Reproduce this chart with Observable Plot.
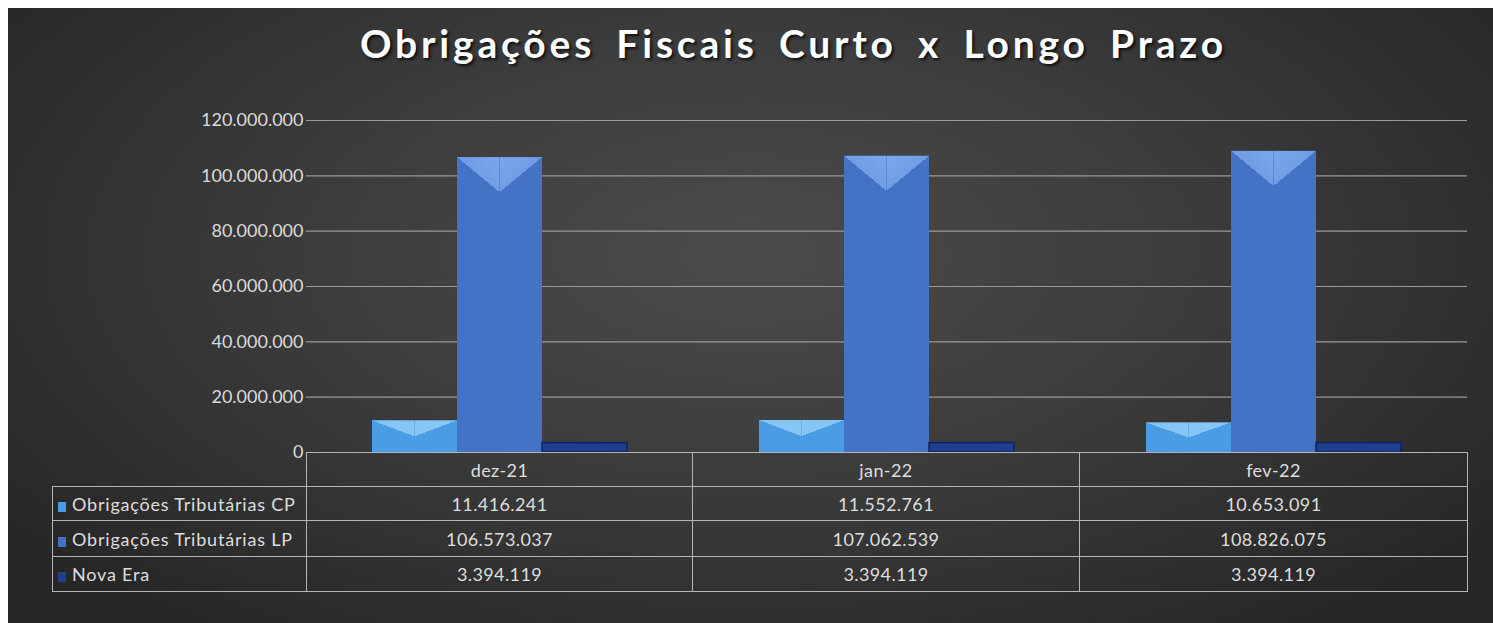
<!DOCTYPE html>
<html>
<head>
<meta charset="utf-8">
<script src="https://cdn.jsdelivr.net/npm/d3@7"></script>
<script src="https://cdn.jsdelivr.net/npm/@observablehq/plot@0.6"></script>
<style>
html,body{margin:0;padding:0;background:#ffffff;}
#root{position:relative;width:1493px;height:623px;overflow:hidden;}
#bg{position:absolute;left:8px;top:8px;width:1485px;height:615px;
  background:radial-gradient(ellipse 62% 75% at 50% 40%, #4b4b4b 0%, #3d3d3d 45%, #272727 100%);}
#title{position:absolute;left:94px;width:1399px;top:20px;text-align:center;
  font-family:Lato, sans-serif;font-weight:bold;font-size:39px;color:#ffffff;
  letter-spacing:3.8px;word-spacing:8px;text-shadow:2px 2px 3px rgba(0,0,0,0.75);}
#chart{position:absolute;left:0;top:0;}
#tbl{position:absolute;left:52px;top:452px;border-collapse:collapse;table-layout:fixed;
  font-family:Lato, sans-serif;font-size:18px;letter-spacing:0.4px;color:#dedede;}
#tbl td{border:1.5px solid #b5b5b5;text-align:center;padding:0;white-space:nowrap;overflow:hidden;}
#tbl td.empty{border-top:none;border-left:none;}
#tbl td.lab{text-align:left;padding-left:5px;letter-spacing:0.8px;}
.key{display:inline-block;width:8px;height:10px;margin-right:6px;vertical-align:-1px;}
</style>
</head>
<body>
<svg width="0" height="0" style="position:absolute">
  <defs>
    <linearGradient id="hlCPL" x1="0" y1="1" x2="1" y2="0">
      <stop offset="0.5" stop-color="#86c6f5" stop-opacity="0"/>
      <stop offset="0.5" stop-color="#86c6f5" stop-opacity="1"/>
      <stop offset="1" stop-color="#86c6f5" stop-opacity="1"/>
    </linearGradient>
    <linearGradient id="hlCPR" x1="1" y1="1" x2="0" y2="0">
      <stop offset="0.5" stop-color="#86c6f5" stop-opacity="0"/>
      <stop offset="0.5" stop-color="#86c6f5" stop-opacity="1"/>
      <stop offset="1" stop-color="#86c6f5" stop-opacity="1"/>
    </linearGradient>
    <linearGradient id="hlLPL" x1="0" y1="1" x2="1" y2="0">
      <stop offset="0.5" stop-color="#6f9ee6" stop-opacity="0"/>
      <stop offset="0.5" stop-color="#6f9ee6" stop-opacity="1"/>
      <stop offset="1" stop-color="#7aa8ec" stop-opacity="1"/>
    </linearGradient>
    <linearGradient id="hlLPR" x1="1" y1="1" x2="0" y2="0">
      <stop offset="0.5" stop-color="#6f9ee6" stop-opacity="0"/>
      <stop offset="0.5" stop-color="#6f9ee6" stop-opacity="1"/>
      <stop offset="1" stop-color="#7aa8ec" stop-opacity="1"/>
    </linearGradient>
  </defs>
</svg>
<div id="root">
  <div id="bg"></div>
  <div id="title">Obrigações Fiscais Curto x Longo Prazo</div>
  <div id="chart"></div>
  <table id="tbl"></table>
</div>
<script>
// ---- data ----
const months = ["dez-21", "jan-22", "fev-22"];
const seriesNames = ["Obrigações Tributárias CP", "Obrigações Tributárias LP", "Nova Era"];
const cpValues = [11416241, 11552761, 10653091];
const lpValues = [106573037, 107062539, 108826075];
const novaEraValues = [3394119, 3394119, 3394119];
const yTicks = [0, 20000000, 40000000, 60000000, 80000000, 100000000, 120000000];

// ---- styles ----
const seriesColors = ["#4a9de5", "#4472c4", "#1f3e8c"];
const seriesValues = [cpValues, lpValues, novaEraValues];

const data = [];
months.forEach((m, i) => {
  seriesNames.forEach((s, j) => data.push({month: m, series: s, value: seriesValues[j][i]}));
});

const fmt = d3.formatLocale({decimal: ",", thousands: ".", grouping: [3], currency: ["R$", ""]}).format(",d");

const W = 1493, mL = 306, mR = 26;
const facetW = (W - mL - mR) / months.length;
const pOuter = 0.763;
const bw = facetW / (seriesNames.length + 2 * pOuter);
const bevel = 12.6e6;
const hl = (d) => d.value - Math.min(bevel, d.value / 2);

const cpData = data.filter(d => d.series === seriesNames[0]);
const lpData = data.filter(d => d.series === seriesNames[1]);
const neData = data.filter(d => d.series === seriesNames[2]);

const chart = Plot.plot({
  width: W,
  height: 470,
  marginLeft: mL,
  marginRight: mR,
  marginTop: 120,
  marginBottom: 18,
  style: {background: "transparent", color: "#dadada", fontFamily: "Lato, sans-serif", fontSize: "18px", overflow: "visible"},
  fx: {domain: months, padding: 0, axis: null},
  x: {domain: seriesNames, paddingInner: 0, paddingOuter: pOuter, axis: null},
  y: {domain: [0, 120000000], axis: null},
  marks: [
    Plot.ruleY(yTicks.filter(d => d > 0), {stroke: "#9a9a9a", strokeWidth: 1.2}),
    Plot.axisY(yTicks, {tickFormat: fmt, tickSize: 0, tickPadding: 3, fontSize: 18, label: null, fill: "#dadada", style: "letter-spacing:3.3px"}),
    Plot.barY(cpData, {fx: "month", x: "series", y: "value", fill: seriesColors[0]}),
    Plot.barY(lpData, {fx: "month", x: "series", y: "value", fill: seriesColors[1]}),
    Plot.barY(neData, {fx: "month", x: "series", y: "value", fill: seriesColors[2], stroke: "#0c2463", strokeWidth: 1.5}),
    Plot.barY(cpData, {fx: "month", x: "series", y1: "value", y2: hl, fill: "url(#hlCPL)", insetRight: bw / 2}),
    Plot.barY(cpData, {fx: "month", x: "series", y1: "value", y2: hl, fill: "url(#hlCPR)", insetLeft: bw / 2}),
    Plot.barY(lpData, {fx: "month", x: "series", y1: "value", y2: hl, fill: "url(#hlLPL)", insetRight: bw / 2}),
    Plot.barY(lpData, {fx: "month", x: "series", y1: "value", y2: hl, fill: "url(#hlLPR)", insetLeft: bw / 2})
  ]
});
document.getElementById("chart").appendChild(chart);

// ---- data table ----
const tbl = document.getElementById("tbl");
const colW = [254, 386, 387, 388];
tbl.style.width = colW.reduce((a, b) => a + b, 0) + "px";
const cg = document.createElement("colgroup");
colW.forEach(w => { const c = document.createElement("col"); c.style.width = w + "px"; cg.appendChild(c); });
tbl.appendChild(cg);
const rowH = [34, 34, 36, 35];
const hr = tbl.insertRow();
hr.style.height = rowH[0] + "px";
const e = hr.insertCell(); e.className = "empty";
months.forEach(m => { hr.insertCell().textContent = m; });
seriesNames.forEach((s, j) => {
  const r = tbl.insertRow();
  r.style.height = rowH[j + 1] + "px";
  const lc = r.insertCell();
  lc.className = "lab";
  const k = document.createElement("span");
  k.className = "key";
  k.style.background = seriesColors[j];
  lc.appendChild(k);
  lc.appendChild(document.createTextNode(s));
  seriesValues[j].forEach(v => { r.insertCell().textContent = fmt(v); });
});
</script>
</body>
</html>
